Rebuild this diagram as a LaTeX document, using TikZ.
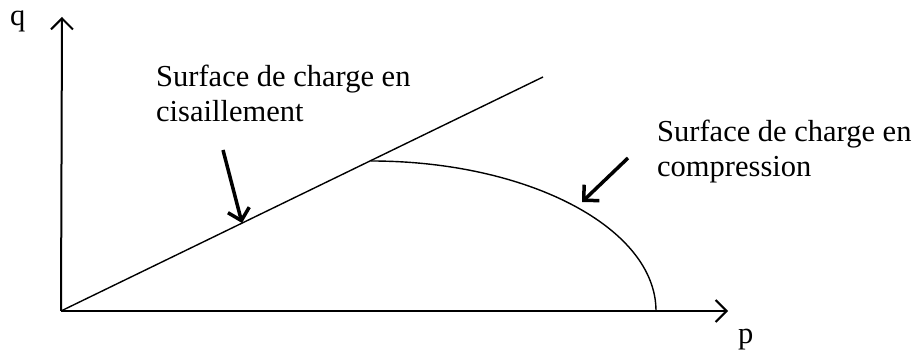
\documentclass[tikz,border=0pt]{standalone}
\usepackage{fontspec}
\setmainfont{Liberation Serif}
\usetikzlibrary{positioning,arrows.meta}

\begin{document}
\begin{tikzpicture}[
		x=1pt,y=1pt,
		>={Straight Barb[length=11pt,width=22pt]},
		axis/.style={->,line width=2pt},
		surface/.style={line width=1.4pt},
		pointer/.style={->,line width=3.5pt},
		label/.style={
			inner sep=0pt,
			align=left,
			font=\fontsize{30.5}{35}\selectfont
		}
		]
		\useasboundingbox (0,0) rectangle (919,351);
		
		%--------------------------------------------------
		% Axes
		%--------------------------------------------------
		
		\coordinate (origin) at (61,40);
		\coordinate (qtop) at (62,334);
		\coordinate (pend) at (728,40);
		
		\draw[axis] (origin) -- (qtop);
		\draw[axis] (origin) -- (pend);
		
		\node (qlab) [label,anchor=base west] at (10,325) {q};
		\node (plab) [label,anchor=base west] at (738,8) {p};
		
		%--------------------------------------------------
		% Surfaces
		%--------------------------------------------------
		
		\coordinate (shearend) at (543,274);
		\coordinate (capstart) at (371,190);
		
		\draw[surface] (origin) -- (shearend);
		\draw[surface] (capstart) arc[start angle=90,end angle=0,x radius=285,y radius=150];
		
		%--------------------------------------------------
		% Labels and pointers
		%--------------------------------------------------
		
		\node (shear) [label,anchor=base west] at (156,229)
		{Surface de charge en\\cisaillement};
		
		\node (comp) [label,anchor=base west] at (657,174)
		{Surface de charge en\\compression};
		
		\coordinate (shearfrom) at (223,201);
		\coordinate (shearto) at (242,128);
		\coordinate (compfrom) at (628,193);
		\coordinate (compto) at (582,149);
		
		\draw[pointer] (shearfrom) -- (shearto);
		\draw[pointer] (compfrom) -- (compto);
		
	\end{tikzpicture}
\end{document}
